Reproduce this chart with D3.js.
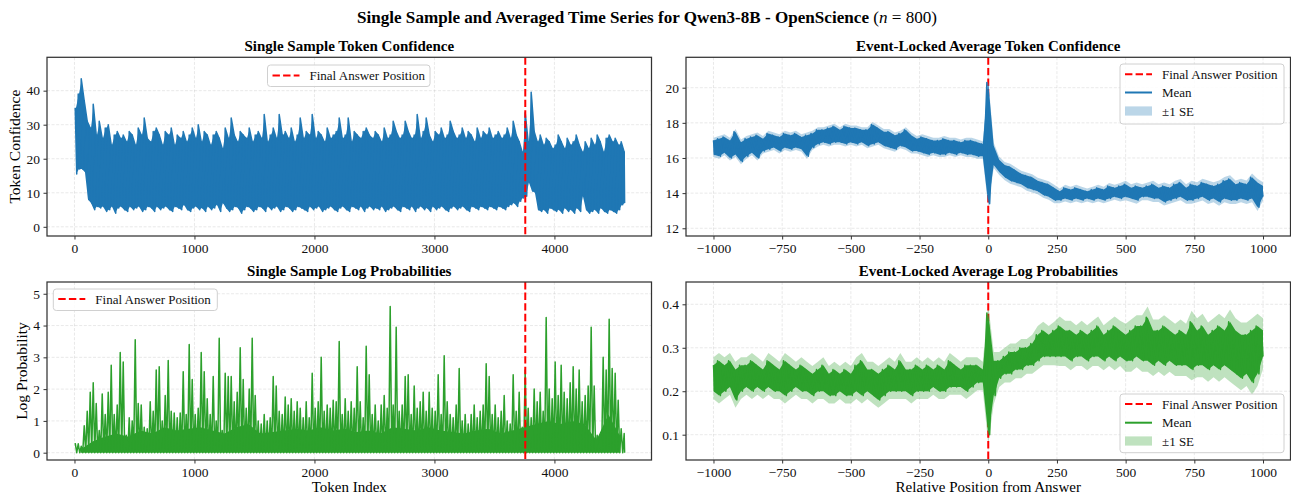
<!DOCTYPE html>
<html>
<head>
<meta charset="utf-8">
<script src="https://cdn.jsdelivr.net/npm/d3@7"></script>
<style>
  body { margin: 0; background: #fff; }
  svg { font-family: "Liberation Serif", "Times New Roman", serif; }
</style>
</head>
<body>
<svg id="fig" width="1291" height="498"></svg>
<script>
// ---- data ----
// single sample, token confidence: max / min per 25-token bin (tokens 0..4600)
const tcTokenHi = [
  35, 39, 43.5, 37, 31, 29, 36, 27, 31, 26,
  29, 30, 24, 27, 28, 26, 27, 25, 28, 27,
  24, 29, 27, 32, 26, 25, 28, 29, 27, 24,
  28, 27, 29, 24, 27, 26, 28, 25, 27, 29,
  26, 30, 25, 28, 27, 24, 27, 28, 26, 23,
  29, 26, 32, 27, 25, 28, 27, 26, 29, 25,
  27, 28, 26, 33, 25, 27, 29, 26, 33, 27,
  28, 26, 29, 25, 27, 32, 26, 28, 27, 33,
  26, 28, 27, 25, 29, 26, 27, 28, 32, 26,
  27, 32, 25, 28, 27, 26, 28, 29, 27, 26,
  28, 27, 25, 29, 26, 27, 31, 28, 26, 27,
  31, 28, 26, 27, 33, 26, 28, 32, 27, 25,
  28, 27, 29, 26, 27, 31, 28, 26, 27, 29,
  26, 28, 27, 25, 29, 26, 28, 27, 29, 26,
  27, 28, 26, 27, 29, 26, 31, 27, 25, 22,
  33.5, 25, 39.5, 28, 25, 27, 24, 26, 25, 23,
  24, 27, 25, 23, 26, 24, 25, 27, 24, 22,
  25, 23, 26, 24, 27, 25, 22, 26, 27, 25,
  26, 24, 25, 22
];
const tcTokenLo = [
  15.5, 17, 17, 16, 8, 7, 5, 6, 5.5, 6,
  4.5, 5, 6, 4, 5.5, 6, 5, 4.5, 6, 5,
  5.5, 6, 4.5, 5, 6, 5.5, 4.5, 6, 5, 5.5,
  6, 5, 4.5, 6, 5.5, 5, 6.5, 5, 4.5, 5.5,
  6, 5, 5.5, 4.5, 6, 5, 5.5, 6.5, 4.5, 7,
  5.5, 4.5, 5, 6, 5.5, 4, 5, 6, 5.5, 4.5,
  5, 6, 5.5, 4.5, 6, 5, 5.5, 6, 4.5, 5,
  6, 5.5, 4.5, 5, 6, 5.5, 5, 4.5, 6, 5,
  5.5, 6, 4.5, 5, 5.5, 6, 5, 4.5, 5.5, 6,
  5, 4.5, 6, 5.5, 5, 6, 4.5, 5.5, 6, 5,
  5.5, 5, 6, 4.5, 5, 5.5, 6, 5, 4.5, 6,
  5.5, 5, 6, 4.5, 5.5, 6, 5, 5.5, 4.5, 6,
  5, 5.5, 6, 5, 4.5, 5.5, 6, 5, 5.5, 6,
  5, 4.5, 6, 5.5, 5, 6, 5.5, 5, 6, 5.5,
  5, 6, 5.5, 5, 6, 6.5, 7, 6, 7.5, 8.5,
  9, 13, 10.5, 10, 5, 4.5, 5, 4, 5.5, 5,
  4.5, 5, 4, 5.5, 4.5, 5, 4, 5.5, 4.5, 9,
  5, 4, 4.5, 5, 4, 5.5, 4.5, 4, 5, 4.5,
  4, 5, 6.5, 7
];
// single sample, log probability: peak per 25-token bin, every bin reaches the floor
const lpTokenPeak = [
  0.3, 0.28, 0.2, 0.85, 1.3, 1.9, 2.2, 1.55, 0.7, 1.85,
  1.2, 1.9, 2.75, 1.2, 1.5, 3.15, 2.85, 0.55, 1.1, 1.0,
  3.55, 1.55, 1.5, 0.8, 0.75, 1.6, 1.3, 2.6, 2.7, 1.0,
  1.8, 2.9, 1.3, 1.25, 1.1, 1.25, 2.55, 1.2, 3.4, 2.3,
  1.2, 1.4, 3.15, 2.55, 1.7, 1.2, 2.4, 1.0, 3.6, 0.7,
  2.5, 2.4, 2.4, 1.6, 1.9, 3.3, 2.3, 1.4, 2.0, 3.6,
  1.8, 1.0, 0.9, 1.2, 1.0, 1.1, 2.4, 2.1, 1.3, 1.2,
  1.75, 1.5, 1.7, 1.3, 1.6, 1.4, 1.1, 1.6, 1.1, 2.5,
  1.4, 1.6, 3.0, 1.3, 1.5, 1.4, 1.65, 1.6, 3.5, 1.2,
  1.7, 1.3, 1.6, 1.4, 2.7, 1.6, 1.1, 3.35, 2.45, 1.2,
  1.5, 1.0, 1.5, 1.8, 1.4, 4.6, 1.5, 3.95, 1.3, 1.5,
  2.4, 2.45, 1.2, 2.1, 1.4, 1.6, 1.9, 1.3, 1.9, 1.4,
  1.3, 2.45, 1.2, 3.05, 1.6, 1.2, 1.1, 1.5, 2.65, 1.0,
  1.2, 0.9, 1.2, 1.5, 1.1, 1.3, 1.5, 2.8, 2.4, 1.2,
  1.5, 1.1, 1.3, 1.8, 1.0, 0.9, 2.45, 1.3, 1.9, 0.8,
  2.6, 1.4, 1.1, 2.0, 1.6, 1.9, 1.3, 4.25, 2.0, 1.7,
  2.85, 1.8, 2.75, 1.9, 1.7, 2.2, 2.7, 2.0, 2.6, 1.6,
  1.8, 2.1, 3.95, 2.1, 0.55, 0.4, 3.0, 2.6, 4.2, 2.65,
  2.5, 1.65, 0.75, 0.6
];
// level below which the green trace is solid, per 100 tokens
const lpTokenCore = [
  0.1, 0.35, 0.5, 0.6, 0.5, 0.7, 0.6, 0.8, 0.7, 0.75,
  0.8, 0.7, 0.6, 0.8, 0.9, 0.6, 0.65, 0.7, 0.75, 0.7,
  0.8, 0.7, 0.75, 0.65, 0.7, 0.6, 0.8, 0.75, 0.7, 0.8,
  0.7, 0.65, 0.6, 0.7, 0.75, 0.6, 0.7, 0.8, 0.9, 1.0,
  0.9, 1.0, 0.9, 0.4, 1.2, 0.5
];
const lpFloor = 0;
const tokenBin = 25;
const coreBin = 100;
const answerIndex = 3757;

// event-locked averages: max / min of the mean per 20-position bin (-1000..1000)
const tcMeanHi = [
  17.0, 17.1, 17.2, 17.0, 17.5, 16.9, 17.1, 17.2, 17.3, 17.1,
  17.4, 17.3, 17.2, 17.4, 17.3, 17.4, 17.2, 17.3, 17.4, 17.6,
  17.6, 17.7, 17.8, 17.6, 17.8, 17.7, 17.7, 17.6, 17.6, 17.9,
  17.7, 17.5, 17.5, 17.3, 17.4, 17.6, 17.3, 17.1, 17.2, 17.1,
  17.0, 17.0, 17.1, 17.0, 17.0, 16.9, 17.0, 17.0, 16.9, 16.8,
  20.3, 16.7, 15.9, 15.6, 15.5, 15.3, 15.1, 15.0, 14.9, 14.7,
  14.6, 14.5, 14.3, 14.1, 14.3, 14.2, 14.3, 14.2, 14.1, 14.2,
  14.3, 14.2, 14.4, 14.3, 14.4, 14.5, 14.3, 14.4, 14.3, 14.4,
  14.5, 14.3, 14.4, 14.3, 14.5, 14.6, 14.3, 14.5, 14.4, 14.6,
  14.5, 14.4, 14.5, 14.7, 14.8, 14.5, 14.6, 14.5, 14.9, 14.6,
  14.4
];
const tcMeanLo = [
  16.2, 16.1, 16.3, 16.0, 16.2, 15.8, 16.1, 16.3, 16.0, 16.4,
  16.5, 16.6, 16.4, 16.6, 16.5, 16.6, 16.5, 16.1, 16.6, 16.8,
  16.9, 16.8, 16.9, 16.9, 16.8, 16.9, 16.8, 16.9, 16.7, 16.8,
  16.9, 16.7, 16.6, 16.5, 16.7, 16.6, 16.4, 16.4, 16.3, 16.2,
  16.3, 16.2, 16.2, 16.3, 16.2, 16.3, 16.2, 16.2, 16.1, 16.1,
  13.4, 15.6, 15.2, 14.9, 14.7, 14.6, 14.5, 14.3, 14.2, 14.1,
  13.9, 13.8, 13.6, 13.6, 13.7, 13.6, 13.7, 13.6, 13.7, 13.6,
  13.7, 13.6, 13.7, 13.8, 13.7, 13.8, 13.7, 13.6, 13.8, 13.8,
  13.7, 13.7, 13.5, 13.6, 13.7, 13.8, 13.6, 13.6, 13.7, 13.8,
  13.6, 13.7, 13.5, 13.7, 13.6, 13.6, 13.7, 13.6, 13.7, 13.2,
  13.8
];
const tcSE = [0.15, 0.15, 0.15, 0.15, 0.17, 0.17, 0.2, 0.22];

const lpMeanHi = [
  0.26, 0.27, 0.26, 0.27, 0.25, 0.26, 0.26, 0.27, 0.26, 0.25,
  0.27, 0.26, 0.25, 0.27, 0.26, 0.25, 0.26, 0.25, 0.24, 0.25,
  0.26, 0.24, 0.25, 0.24, 0.25, 0.24, 0.26, 0.27, 0.25, 0.25,
  0.24, 0.25, 0.26, 0.25, 0.27, 0.25, 0.25, 0.26, 0.25, 0.26,
  0.25, 0.26, 0.25, 0.27, 0.26, 0.25, 0.26, 0.26, 0.26, 0.25,
  0.38, 0.27, 0.27, 0.28, 0.29, 0.29, 0.30, 0.30, 0.31, 0.33,
  0.34, 0.33, 0.34, 0.35, 0.34, 0.34, 0.33, 0.34, 0.33, 0.34,
  0.35, 0.33, 0.34, 0.35, 0.34, 0.33, 0.34, 0.35, 0.35, 0.37,
  0.34, 0.34, 0.35, 0.34, 0.33, 0.34, 0.33, 0.36, 0.34, 0.35,
  0.33, 0.34, 0.35, 0.34, 0.36, 0.34, 0.33, 0.33, 0.34, 0.35,
  0.34
];
const lpMeanLo = [
  0.20, 0.19, 0.20, 0.21, 0.18, 0.20, 0.21, 0.20, 0.21, 0.20,
  0.21, 0.20, 0.20, 0.19, 0.20, 0.21, 0.20, 0.20, 0.19, 0.20,
  0.20, 0.19, 0.19, 0.20, 0.19, 0.19, 0.20, 0.19, 0.20, 0.19,
  0.18, 0.19, 0.20, 0.20, 0.20, 0.20, 0.19, 0.20, 0.20, 0.20,
  0.21, 0.20, 0.20, 0.21, 0.21, 0.21, 0.20, 0.21, 0.22, 0.22,
  0.10, 0.19, 0.23, 0.24, 0.24, 0.25, 0.25, 0.26, 0.26, 0.27,
  0.28, 0.28, 0.28, 0.28, 0.28, 0.27, 0.28, 0.28, 0.27, 0.28,
  0.28, 0.27, 0.28, 0.27, 0.28, 0.27, 0.27, 0.28, 0.27, 0.27,
  0.26, 0.27, 0.26, 0.27, 0.26, 0.26, 0.26, 0.25, 0.26, 0.26,
  0.25, 0.26, 0.25, 0.26, 0.25, 0.24, 0.23, 0.24, 0.22, 0.24,
  0.28
];
const lpSE = [0.018, 0.018, 0.018, 0.018, 0.02, 0.022, 0.025, 0.028];

const relStart = -1000;
const relBin = 20;

const singleTicks = [0, 1000, 2000, 3000, 4000];
const relTicks = [-1000, -750, -500, -250, 0, 250, 500, 750, 1000];
const tcSingleTicks = [0, 10, 20, 30, 40];
const tcMeanTicks = [12, 14, 16, 18, 20];
const lpSingleTicks = [0, 1, 2, 3, 4, 5];
const lpMeanTicks = [0.1, 0.2, 0.3, 0.4];

// ---- drawing ----
const svg = d3.select("#fig");
const blue = "#1f77b4", green = "#2ca02c", red = "#ff0000";

function makePanel(cfg) {
  const x = d3.scaleLinear().domain(cfg.xDomain).range([cfg.left, cfg.right]);
  const y = d3.scaleLinear().domain(cfg.yDomain).range([cfg.bottom, cfg.top]);
  const g = svg.append("g");

  svg.append("clipPath").attr("id", "clip-" + cfg.id)
    .append("rect")
    .attr("x", cfg.left).attr("y", cfg.top)
    .attr("width", cfg.right - cfg.left).attr("height", cfg.bottom - cfg.top);

  // grid
  const grid = g.append("g").attr("stroke", "#b0b0b0").attr("stroke-opacity", 0.35)
    .attr("stroke-width", 0.8).attr("stroke-dasharray", "3,1.6");
  grid.selectAll(".gx").data(cfg.xTicks).join("line")
    .attr("x1", d => x(d)).attr("x2", d => x(d))
    .attr("y1", cfg.top).attr("y2", cfg.bottom);
  grid.selectAll(".gy").data(cfg.yTicks).join("line")
    .attr("y1", d => y(d)).attr("y2", d => y(d))
    .attr("x1", cfg.left).attr("x2", cfg.right);

  const plot = g.append("g").attr("clip-path", `url(#clip-${cfg.id})`);

  // axes
  const xAxis = d3.axisBottom(x).tickValues(cfg.xTicks).tickSize(3.5).tickPadding(3.5)
    .tickFormat(d3.format("d"));
  const yAxis = d3.axisLeft(y).tickValues(cfg.yTicks).tickSize(3.5).tickPadding(3.5)
    .tickFormat(cfg.yFormat);
  const ax = g.append("g").attr("transform", `translate(0,${cfg.bottom})`).call(xAxis);
  const ay = g.append("g").attr("transform", `translate(${cfg.left},0)`).call(yAxis);
  [ax, ay].forEach(a => {
    a.select(".domain").remove();
    a.attr("font-family", null).attr("font-size", 13.5);
    a.selectAll(".tick line").attr("stroke", "#333");
    a.selectAll(".tick text").attr("fill", "#111");
  });

  // title
  g.append("text")
    .attr("x", (cfg.left + cfg.right) / 2).attr("y", cfg.top - 6)
    .attr("text-anchor", "middle").attr("font-weight", "bold").attr("font-size", 15)
    .text(cfg.title);

  if (cfg.xLabel) {
    g.append("text")
      .attr("x", (cfg.left + cfg.right) / 2).attr("y", 492)
      .attr("text-anchor", "middle").attr("font-size", 15)
      .text(cfg.xLabel);
  }
  if (cfg.yLabel) {
    g.append("text")
      .attr("transform", `translate(${cfg.yLabelX},${(cfg.top + cfg.bottom) / 2}) rotate(-90)`)
      .attr("text-anchor", "middle").attr("font-size", 15.5)
      .text(cfg.yLabel);
  }

  return { g, plot, x, y, cfg };
}

function frame(p) {
  p.g.append("rect")
    .attr("x", p.cfg.left).attr("y", p.cfg.top)
    .attr("width", p.cfg.right - p.cfg.left).attr("height", p.cfg.bottom - p.cfg.top)
    .attr("fill", "none").attr("stroke", "#333").attr("stroke-width", 1.25);
}

function answerLine(p, xv) {
  p.plot.append("line")
    .attr("x1", p.x(xv)).attr("x2", p.x(xv))
    .attr("y1", p.cfg.top).attr("y2", p.cfg.bottom)
    .attr("stroke", red).attr("stroke-width", 2).attr("stroke-dasharray", "7.4,3.2");
}

// zig-zag through bin max then bin min, so the dense trace reads like the original
function zigzag(hi, lo, x0, step, xMin, xMax) {
  const pts = [];
  hi.forEach((h, i) => {
    const bx = x0 + i * step;
    pts.push([Math.max(xMin, Math.min(xMax, bx - step / 4)), h]);
    pts.push([Math.max(xMin, Math.min(xMax, bx + step / 4)), Array.isArray(lo) ? lo[i] : lo]);
  });
  return pts;
}

function legend(p, bx, by, w, h, items) {
  const lg = p.g.append("g");
  lg.append("rect").attr("x", bx).attr("y", by).attr("width", w).attr("height", h)
    .attr("rx", 3).attr("fill", "#fff").attr("fill-opacity", 0.85)
    .attr("stroke", "#d0d0d0").attr("stroke-width", 1);
  items.forEach(it => {
    const cy = by + it.dy;
    if (it.kind === "patch") {
      lg.append("rect").attr("x", bx + 5).attr("y", cy - 4.6).attr("width", 27).attr("height", 9.2)
        .attr("fill", it.color).attr("fill-opacity", 0.3);
    } else {
      lg.append("line").attr("x1", bx + 5).attr("x2", bx + 32).attr("y1", cy).attr("y2", cy)
        .attr("stroke", it.color).attr("stroke-width", 2)
        .attr("stroke-dasharray", it.kind === "dash" ? "7.4,3.2" : null);
    }
    lg.append("text").attr("x", bx + 42).attr("y", cy).attr("dy", "0.35em")
      .attr("font-size", 13).attr("fill", "#111").text(it.label);
  });
}

// main title
const title = svg.append("text").attr("x", 647).attr("y", 23)
  .attr("text-anchor", "middle").attr("font-size", 17.1);
title.append("tspan").attr("font-weight", "bold")
  .text("Single Sample and Averaged Time Series for Qwen3-8B - OpenScience ");
title.append("tspan").text("(");
title.append("tspan").attr("font-style", "italic").text("n");
title.append("tspan").text(" = 800)");

// --- top left: single sample token confidence
const p1 = makePanel({
  id: "tc1", left: 47, right: 651.5, top: 57.3, bottom: 236,
  xDomain: [-229, 4809], yDomain: [-2.7, 49.8],
  xTicks: singleTicks, yTicks: tcSingleTicks, yFormat: d3.format("d"),
  title: "Single Sample Token Confidence", yLabel: "Token Confidence", yLabelX: 20
});
const tcRows = tcTokenHi.map((h, i) => ({ t: tokenBin / 2 + i * tokenBin, hi: h, lo: tcTokenLo[i] }));
p1.plot.append("path").datum(tcRows)
  .attr("fill", blue)
  .attr("d", d3.area().x(d => p1.x(d.t)).y0(d => p1.y(d.lo)).y1(d => p1.y(d.hi)));
p1.plot.append("path")
  .datum(zigzag(tcTokenHi, tcTokenLo, tokenBin / 2, tokenBin, 0, 4585))
  .attr("fill", "none").attr("stroke", blue).attr("stroke-width", 1.5)
  .attr("stroke-linejoin", "round")
  .attr("d", d3.line().x(d => p1.x(d[0])).y(d => p1.y(d[1])));
answerLine(p1, answerIndex);
legend(p1, 267.5, 65, 162.5, 21.5, [{ kind: "dash", color: red, label: "Final Answer Position", dy: 10.5 }]);
frame(p1);

// --- bottom left: single sample log probabilities
const p3 = makePanel({
  id: "lp1", left: 47, right: 651.5, top: 282, bottom: 460,
  xDomain: [-229, 4809], yDomain: [-0.23, 5.37],
  xTicks: singleTicks, yTicks: lpSingleTicks, yFormat: d3.format("d"),
  title: "Single Sample Log Probabilities", yLabel: "Log Probability", yLabelX: 27,
  xLabel: "Token Index"
});
const coreRows = lpTokenCore.map((c, i) => ({ t: Math.min(4585, coreBin / 2 + i * coreBin), c }));
p3.plot.append("path").datum(coreRows)
  .attr("fill", green)
  .attr("d", d3.area().x(d => p3.x(d.t)).y0(p3.y(lpFloor)).y1(d => p3.y(d.c)));
p3.plot.append("path")
  .datum(zigzag(lpTokenPeak, lpFloor, tokenBin / 2, tokenBin, 0, 4585))
  .attr("fill", "none").attr("stroke", green).attr("stroke-width", 1.5)
  .attr("stroke-linejoin", "round")
  .attr("d", d3.line().x(d => p3.x(d[0])).y(d => p3.y(d[1])));
answerLine(p3, answerIndex);
legend(p3, 53.3, 289, 164, 21.5, [{ kind: "dash", color: red, label: "Final Answer Position", dy: 10 }]);
frame(p3);

// --- right panels: event-locked averages
function meanPanel(cfg, hi, lo, se, color) {
  const p = makePanel(cfg);
  const pos = hi.map((_, i) => relStart + i * relBin);
  const seAt = v => se[Math.min(se.length - 1, Math.floor((v - relStart) / 250))];
  const rows = pos.map((v, i) => ({ v, hi: hi[i], lo: lo[i] }));
  // ±1 SE band
  p.plot.append("path").datum(rows)
    .attr("fill", color).attr("fill-opacity", 0.3)
    .attr("d", d3.area().x(d => p.x(d.v)).y0(d => p.y(d.lo - seAt(d.v))).y1(d => p.y(d.hi + seAt(d.v))));
  answerLine(p, 0);
  // mean trace
  p.plot.append("path").datum(rows)
    .attr("fill", color)
    .attr("d", d3.area().x(d => p.x(d.v)).y0(d => p.y(d.lo)).y1(d => p.y(d.hi)));
  p.plot.append("path")
    .datum(zigzag(hi, lo, relStart, relBin, -1000, 1000))
    .attr("fill", "none").attr("stroke", color).attr("stroke-width", 1.5)
    .attr("stroke-linejoin", "round")
    .attr("d", d3.line().x(d => p.x(d[0])).y(d => p.y(d[1])));
  return p;
}

const p2 = meanPanel({
  id: "tc2", left: 686, right: 1290.5, top: 57.3, bottom: 236,
  xDomain: [-1100, 1100], yDomain: [11.56, 21.73],
  xTicks: relTicks, yTicks: tcMeanTicks, yFormat: d3.format("d"),
  title: "Event-Locked Average Token Confidence"
}, tcMeanHi, tcMeanLo, tcSE, blue);
legend(p2, 1120, 64, 164, 60, [
  { kind: "dash", color: red, label: "Final Answer Position", dy: 10.3 },
  { kind: "line", color: blue, label: "Mean", dy: 28.5 },
  { kind: "patch", color: blue, label: "\u00b11 SE", dy: 47 }
]);
frame(p2);

const p4 = meanPanel({
  id: "lp2", left: 686, right: 1290.5, top: 282, bottom: 460,
  xDomain: [-1100, 1100], yDomain: [0.0418, 0.4513],
  xTicks: relTicks, yTicks: lpMeanTicks, yFormat: d3.format(".1f"),
  title: "Event-Locked Average Log Probabilities", xLabel: "Relative Position from Answer"
}, lpMeanHi, lpMeanLo, lpSE, green);
legend(p4, 1120, 394, 164, 58.7, [
  { kind: "dash", color: red, label: "Final Answer Position", dy: 10 },
  { kind: "line", color: green, label: "Mean", dy: 28.7 },
  { kind: "patch", color: green, label: "\u00b11 SE", dy: 47 }
]);
frame(p4);
</script>
</body>
</html>
